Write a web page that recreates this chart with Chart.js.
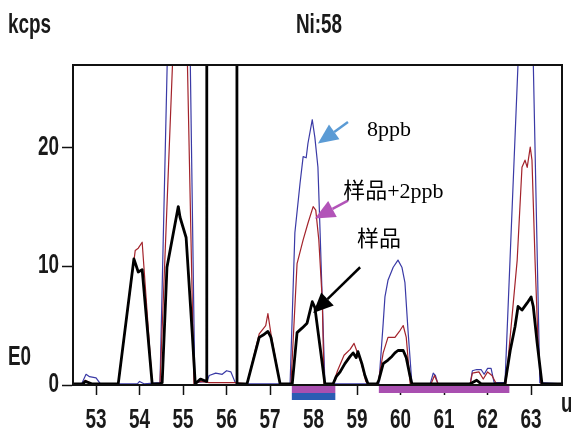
<!DOCTYPE html>
<html>
<head>
<meta charset="utf-8">
<script src="https://cdn.jsdelivr.net/npm/chart.js@4/dist/chart.umd.min.js"></script>
<style>
  html, body { margin: 0; padding: 0; background: #fff; }
  #wrap { width: 571px; height: 437px; }
</style>
</head>
<body>
<div id="wrap"><canvas id="ni-chart" width="571" height="437"></canvas></div>
<script>
// mass axis (u) and tick labels
var xTicks = [53, 54, 55, 56, 57, 58, 59, 60, 61, 62, 63];
var yTicks = [0, 10, 20];

// 样品 (sample) trace
var sampleMass = [52.47, 52.7, 52.75, 52.9, 53.51, 53.87, 53.97, 54.06, 54.29, 54.47, 54.52, 54.63, 54.89, 54.93, 55.07, 55.21, 55.28,
  55.4, 55.54, 55.545, 56.235, 56.24, 56.47, 56.75, 56.84, 56.95, 57.02, 57.23, 57.51, 57.62, 57.74, 57.85, 57.97, 58.03, 58.26,
  58.45, 58.52, 58.61, 58.72, 58.84, 58.91, 58.98, 59.02, 59.11, 59.18, 59.25, 59.46, 59.5, 59.6, 59.71, 59.8, 59.87, 59.94,
  60.06, 60.13, 60.22, 60.26, 61.6, 61.75, 61.85, 62.4, 62.52, 62.63, 62.7, 62.79, 62.91, 63.0, 63.05, 63.14, 63.25, 63.71];
var sampleKcps = [0.1, 0.1, 0.3, 0.1, 0.1, 10.6, 9.5, 9.7, 0.1, 0.1, 0.2, 9.9, 15.0, 14.1, 12.4, 4.4, 0.1,
  0.5, 0.3, 60, 60, 0.1, 0.1, 4.0, 4.2, 4.5, 4.0, 0.1, 0.1, 4.4, 4.8, 5.2, 7.0, 6.5, 0.1,
  0.1, 0.7, 1.1, 1.8, 2.4, 2.7, 2.3, 2.8, 1.8, 0.8, 0.1, 0.1, 0.4, 1.8, 2.1, 2.4, 2.7, 2.9,
  2.9, 2.3, 0.7, 0.1, 0.1, 0.4, 0.1, 0.1, 2.9, 4.9, 6.6, 6.3, 6.9, 7.4, 6.6, 3.5, 0.1, 0.1];

// 样品+2ppb trace
var spikeMass = [52.47, 52.7, 52.75, 52.9, 53.51, 53.9, 53.97, 54.06, 54.29, 54.47, 54.95, 55.0, 55.25, 55.4, 55.6, 56.2, 56.47,
  56.75, 56.9, 56.95, 57.02, 57.23, 57.48, 57.62, 57.76, 57.87, 57.99, 58.05, 58.12, 58.2, 58.24, 58.45, 58.55, 58.7, 58.84,
  58.93, 59.0, 59.1, 59.2, 59.25, 59.48, 59.6, 59.71, 59.87, 59.99, 60.06, 60.13, 60.22, 60.7, 60.78, 60.86, 61.6, 61.65,
  61.8, 61.9, 62.0, 62.1, 62.2, 62.42, 62.68, 62.79, 62.86, 62.91, 62.98, 63.02, 63.09, 63.16, 63.23, 63.71];
var spikeKcps = [0.1, 0.1, 0.4, 0.1, 0.1, 11.3, 11.5, 12.0, 0.1, 0.1, 45, 45, 0.1, 0.3, 0.2, 0.2, 0.1,
  4.3, 5.0, 6.0, 4.3, 0.1, 0.1, 10.2, 12.2, 13.6, 15.0, 14.7, 12.2, 7.1, 0.1, 0.1, 1.2, 2.5, 3.0,
  3.5, 2.8, 1.8, 0.3, 0.1, 0.1, 2.7, 4.0, 4.0, 4.6, 5.0, 4.0, 0.1, 0.1, 0.8, 0.1, 0.1, 1.0,
  1.1, 0.5, 1.1, 0.8, 0.1, 0.1, 10.5, 18.3, 18.9, 18.3, 20.0, 18.9, 10.5, 3.5, 0.1, 0.1];

// 8ppb standard trace
var stdMass = [52.47, 52.67, 52.77, 52.85, 53.0, 53.1, 53.95, 54.0, 54.1, 54.47, 54.9, 55.0, 55.27, 55.55, 55.6, 55.75, 55.9,
  56.0, 56.1, 56.2, 56.3, 57.46, 57.57, 57.69, 57.76, 57.83, 57.87, 57.97, 58.03, 58.1, 58.15, 58.2, 58.26, 59.5, 59.6,
  59.64, 59.71, 59.83, 59.94, 60.03, 60.1, 60.17, 60.26, 60.68, 60.75, 60.8, 60.86, 61.6, 61.65, 61.75, 61.85, 61.92, 62.0,
  62.08, 62.15, 62.4, 62.9, 62.95, 63.2, 63.71];
var stdKcps = [0.1, 0.1, 0.9, 0.7, 0.6, 0.1, 0.1, 0.3, 0.1, 0.2, 70, 70, 0.2, 0.3, 0.8, 1.0, 0.9,
  1.2, 1.1, 0.2, 0.1, 0.1, 12.8, 17.0, 19.2, 19.1, 20.3, 22.3, 20.8, 18.3, 12.8, 7.1, 0.1, 0.1, 5.2,
  7.4, 8.8, 9.9, 10.5, 9.9, 8.6, 4.6, 0.1, 0.1, 1.0, 0.8, 0.1, 0.1, 1.2, 1.3, 1.3, 0.9, 1.4,
  1.4, 0.2, 0.2, 45, 45, 0.2, 0.1];

// integration windows under the axis
var windowFrom = [57.5, 59.5];
var windowTo = [58.5, 62.5];
var refFrom = [57.5];
var refTo = [58.5];

// arrow labels: text, text position, arrow tail and tip (in data units)
var noteText = ["8ppb", "样品+2ppb", "样品"];
var noteX = [59.23, 58.68, 59.0];
var noteY = [21.4, 16.2, 12.2];
var tailX = [58.79, 58.79, 59.07];
var tailY = [22.1, 15.5, 9.9];
var tipX = [58.1, 58.03, 57.99];
var tipY = [20.3, 14.0, 6.05];
var noteColor = ["#5b9bd5", "#b254b8", "#000000"];

function pts(xs, ys) {
  return xs.map(function (x, i) { return { x: x, y: ys[i] }; });
}

// the instrument font is a tall condensed bold sans, squeeze Arial-like bold
function narrow(c, str, x, y, align) {
  c.save();
  c.translate(x, y);
  c.scale(0.7, 1);
  c.textAlign = align;
  c.fillText(str, 0, 0);
  c.restore();
}

var extras = {
  id: "extras",
  afterDraw: function (chart) {
    var c = chart.ctx, a = chart.chartArea, sx = chart.scales.x, sy = chart.scales.y;
    c.save();
    // frame
    c.strokeStyle = "#111";
    c.lineWidth = 2;
    c.strokeRect(a.left, a.top, a.right - a.left, a.bottom - a.top);

    // window bars
    c.fillStyle = "#a94fb0";
    for (var i = 0; i < windowFrom.length; i++) {
      var x0 = sx.getPixelForValue(windowFrom[i]), x1 = sx.getPixelForValue(windowTo[i]);
      c.fillRect(x0, a.bottom + 1, x1 - x0, 7);
    }
    c.fillStyle = "#2b5cb3";
    for (var j = 0; j < refFrom.length; j++) {
      var r0 = sx.getPixelForValue(refFrom[j]), r1 = sx.getPixelForValue(refTo[j]);
      c.fillRect(r0, a.bottom + 8, r1 - r0, 7);
    }

    // tick labels and captions
    c.fillStyle = "#1a1a1a";
    c.font = "bold 27px 'Liberation Sans', Arial, sans-serif";
    c.textBaseline = "middle";
    sx.ticks.forEach(function (t) {
      narrow(c, String(t.value), sx.getPixelForValue(t.value), a.bottom + 36, "center");
    });
    sy.ticks.forEach(function (t) {
      narrow(c, String(t.value), a.left - 14, sy.getPixelForValue(t.value), "right");
    });
    narrow(c, "kcps", 8, 26, "left");
    narrow(c, "E0", 8, 358, "left");
    narrow(c, "u", 561, 405, "left");
    narrow(c, "Ni:58", 319, 26, "center");

    // arrows + notes
    for (var k = 0; k < noteText.length; k++) {
      var tx = sx.getPixelForValue(tailX[k]), ty = sy.getPixelForValue(tailY[k]);
      var px = sx.getPixelForValue(tipX[k]), py = sy.getPixelForValue(tipY[k]);
      var ang = Math.atan2(py - ty, px - tx);
      var hl = 20, hw = 9;
      var bx = px - hl * Math.cos(ang), by = py - hl * Math.sin(ang);
      c.strokeStyle = noteColor[k];
      c.fillStyle = noteColor[k];
      c.lineWidth = 2.5;
      c.beginPath();
      c.moveTo(tx, ty);
      c.lineTo(bx, by);
      c.stroke();
      c.beginPath();
      c.moveTo(px, py);
      c.lineTo(bx + hw * Math.sin(ang), by - hw * Math.cos(ang));
      c.lineTo(bx - hw * Math.sin(ang), by + hw * Math.cos(ang));
      c.closePath();
      c.fill();

      c.fillStyle = "#000";
      c.font = "22px 'Liberation Serif', 'Noto Sans CJK SC', serif";
      c.textAlign = "left";
      c.textBaseline = "middle";
      c.fillText(noteText[k], sx.getPixelForValue(noteX[k]), sy.getPixelForValue(noteY[k]));
    }
    c.restore();
  }
};

var ctx = document.getElementById("ni-chart").getContext("2d");
var myChart = new Chart(ctx, {
  type: "line",
  data: {
    datasets: [
      {
        label: "样品",
        data: pts(sampleMass, sampleKcps),
        borderColor: "#000000",
        borderWidth: 2.8
      },
      {
        label: "样品+2ppb",
        data: pts(spikeMass, spikeKcps),
        borderColor: "#a3232b",
        borderWidth: 1.2
      },
      {
        label: "8ppb",
        data: pts(stdMass, stdKcps),
        borderColor: "#3a3aa6",
        borderWidth: 1.2
      }
    ]
  },
  options: {
    responsive: false,
    animation: false,
    elements: { point: { radius: 0 }, line: { tension: 0, borderJoinStyle: "round" } },
    layout: { padding: { top: 65, right: 9, left: 0, bottom: 0 } },
    plugins: { legend: { display: false }, tooltip: { enabled: false } },
    scales: {
      x: {
        type: "linear",
        min: 52.47,
        max: 63.71,
        afterBuildTicks: function (s) { s.ticks = xTicks.map(function (v) { return { value: v }; }); },
        afterFit: function (s) { s.height = 52; },
        ticks: { display: false },
        grid: { drawOnChartArea: false, drawTicks: true, tickLength: 10, color: "#111", tickWidth: 1.5 },
        border: { display: true, color: "#111", width: 2 }
      },
      y: {
        min: 0,
        max: 26.9,
        afterBuildTicks: function (s) { s.ticks = yTicks.map(function (v) { return { value: v }; }); },
        afterFit: function (s) { s.width = 73; },
        ticks: { display: false },
        grid: { drawOnChartArea: false, drawTicks: true, tickLength: 11, color: "#111", tickWidth: 1.5 },
        border: { display: true, color: "#111", width: 2 }
      }
    }
  },
  plugins: [extras]
});
</script>
</body>
</html>
